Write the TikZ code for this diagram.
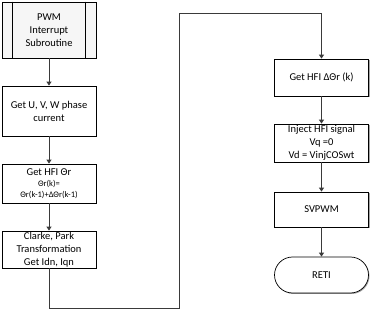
\documentclass[tikz,border=0pt]{standalone}
\usepackage{fontspec}
\setmainfont{Carlito}
\usetikzlibrary{arrows.meta,shadows}

\begin{document}
\begin{tikzpicture}[x=1pt, y=-1pt,
    box/.style={draw=black, line width=0.7pt, fill=white, align=center,
        minimum width=94pt, inner sep=1pt, font=\fontsize{10.5}{13}\selectfont,
        drop shadow={shadow xshift=1pt, shadow yshift=-1pt, fill=gray!70, opacity=1}},
    flow/.style={draw=lineColour, line width=0.9pt, -{Triangle[width=5pt,length=4pt]}}]
    % Define colours
    \definecolor{lineColour}{HTML}{3A3A3A}
    \definecolor{procFill}{HTML}{F6F6F6}

    % Define column positions
    \def\leftX{49}
    \def\rightX{321.5}

    % Fix the canvas
    \useasboundingbox (0,0) rectangle (372,320);

    % Left column
    \node[box, fill=procFill, minimum height=56pt] (pwm) at (\leftX,30) {PWM\\Interrupt\\Subroutine};
    \draw[line width=0.7pt] ([xshift=11pt]pwm.north west) -- ([xshift=11pt]pwm.south west);
    \draw[line width=0.7pt] ([xshift=-11pt]pwm.north east) -- ([xshift=-11pt]pwm.south east);
    \node[box, minimum height=50pt] (cur) at (\leftX,111) {Get U, V, W phase\\current};
    \node[box, minimum height=39pt] (hfi) at (\leftX,183.5)
        {Get HFI Θr\\[-2pt]{\fontsize{8.5}{11}\selectfont Θr(k)=}\\[-2pt]{\fontsize{8.5}{11}\selectfont Θr(k-1)+ΔΘr(k-1)}};
    \node[box, minimum height=37pt] (park) at (\leftX,249.5) {Clarke, Park\\Transformation\\Get Idn, Iqn};

    % Right column
    \node[box, minimum height=37pt] (delta) at (\rightX,77.5) {Get HFI ΔΘr (k)};
    \node[box, minimum height=38pt] (inj) at (\rightX,143) {Inject HFI signal\\Vq =0\\Vd = VinjCOSwt};
    \node[box, minimum height=35pt] (svpwm) at (\rightX,209.5) {SVPWM};
    \node[box, minimum height=36pt, rounded corners=18pt] (reti) at (\rightX,275) {RETI};

    % Corners of the long connector
    \coordinate (bend1) at (179,308);
    \coordinate (bend2) at (179,13);

    % Draw connectors
    \draw[flow] (pwm) -- (cur);
    \draw[flow] (cur) -- (hfi);
    \draw[flow] (hfi) -- (park);
    \draw[flow] (park.south) |- (bend1) -- (bend2) -| (delta.north);
    \draw[flow] (delta) -- (inj);
    \draw[flow] (inj) -- (svpwm);
    \draw[flow] (svpwm) -- (reti);

\end{tikzpicture}
\end{document}
